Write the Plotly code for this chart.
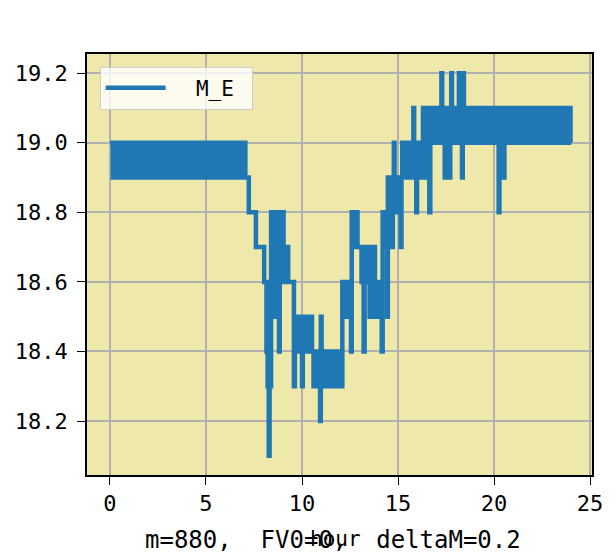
import plotly.graph_objects as go

# ---- data (hour, M_E), as change points ----
night_hour = [0.0, 0.15, 0.3, 0.45, 0.6, 0.75, 0.9, 1.05, 1.2, 1.35, 1.5, 1.65,
              1.8, 1.95, 2.1, 2.25, 2.4, 2.55, 2.7, 2.85, 3.0, 3.15, 3.3, 3.45,
              3.6, 3.75, 3.9, 4.05, 4.2, 4.35, 4.5, 4.65, 4.8, 4.95, 5.1, 5.25,
              5.4, 5.55, 5.7, 5.85, 6.0, 6.15, 6.3, 6.45, 6.6, 6.75, 6.9, 7.05]
night_me = [19.0, 18.9, 19.0, 18.9, 19.0, 18.9, 19.0, 18.9, 19.0, 18.9, 19.0, 18.9,
            19.0, 18.9, 19.0, 18.9, 19.0, 18.9, 19.0, 18.9, 19.0, 18.9, 19.0, 18.9,
            19.0, 18.9, 19.0, 18.9, 19.0, 18.9, 19.0, 18.9, 19.0, 18.9, 19.0, 18.9,
            19.0, 18.9, 19.0, 18.9, 19.0, 18.9, 19.0, 18.9, 19.0, 18.9, 19.0, 18.9]

drop_hour = [7.23, 7.60, 8.03, 8.15, 8.21, 8.27, 8.31, 8.35, 8.39, 8.43,
             8.47, 8.51, 8.55, 8.59, 8.63, 8.67, 8.71, 8.75, 8.80, 8.84,
             8.88, 8.92, 8.96, 9.00, 9.04, 9.10, 9.16, 9.22, 9.28, 9.58,
             9.63, 9.70, 9.76, 9.82, 9.88, 9.94, 10.00, 10.04, 10.10, 10.16,
             10.22, 10.30, 10.34, 10.48, 10.52]
drop_me = [18.8, 18.7, 18.6, 18.4, 18.3, 18.1, 18.6, 18.3, 18.8, 18.5,
           18.7, 18.8, 18.6, 18.5, 18.7, 18.8, 18.6, 18.5, 18.4, 18.7,
           18.8, 18.6, 18.7, 18.8, 18.6, 18.7, 18.6, 18.7, 18.6, 18.3,
           18.5, 18.4, 18.5, 18.4, 18.5, 18.4, 18.3, 18.5, 18.4, 18.5,
           18.4, 18.5, 18.4, 18.5, 18.4]

low_hour = [10.60, 10.72, 10.84, 10.94, 10.98, 11.02, 11.14, 11.26, 11.38,
            11.50, 11.62, 11.74, 11.86, 11.92]
low_me = [18.3, 18.4, 18.3, 18.2, 18.5, 18.3, 18.4, 18.3, 18.4,
          18.3, 18.4, 18.3, 18.4, 18.3]

rise_hour = [12.10, 12.20, 12.30, 12.40, 12.50, 12.55, 12.59, 12.69, 12.79, 12.89,
             13.10, 13.16, 13.21, 13.26, 13.34, 13.42, 13.52, 13.58, 13.66, 13.74,
             13.80, 13.90, 14.00, 14.10, 14.15, 14.20, 14.30, 14.38, 14.44, 14.47,
             14.52, 14.60, 14.68, 14.73, 14.78, 14.82, 14.92, 15.02, 15.14, 15.18]
rise_me = [18.6, 18.5, 18.6, 18.5, 18.6, 18.4, 18.8, 18.7, 18.8, 18.7,
           18.6, 18.7, 18.4, 18.7, 18.6, 18.7, 18.5, 18.6, 18.5, 18.7,
           18.5, 18.6, 18.5, 18.6, 18.4, 18.8, 18.7, 18.8, 18.5, 18.9,
           18.7, 18.8, 18.7, 18.9, 19.0, 18.8, 18.9, 18.8, 18.7, 18.9]

day_hour = [15.22, 15.34, 15.46, 15.58, 15.70, 15.80, 15.84, 15.95, 15.99, 16.08,
            16.20, 16.30, 16.34, 16.44, 16.56, 16.63, 16.68, 16.80, 16.92, 17.04,
            17.16, 17.26, 17.30, 17.43, 17.47, 17.59, 17.68, 17.72, 17.77, 17.81,
            17.93, 18.05, 18.17, 18.22, 18.28, 18.33, 18.37, 18.43, 18.52]
day_me = [19.0, 18.9, 19.0, 18.9, 19.0, 19.1, 18.9, 18.8, 19.0, 18.9,
          19.0, 19.1, 18.9, 19.1, 19.0, 18.8, 19.1, 19.0, 19.1, 19.0,
          19.1, 19.2, 19.0, 18.9, 19.1, 19.0, 18.9, 19.1, 19.2, 19.0,
          19.1, 19.0, 19.2, 19.1, 19.2, 18.9, 19.2, 19.1, 19.0]

late_hour = [18.64, 18.76, 18.88, 19.00, 19.12, 19.24, 19.36, 19.48, 19.60, 19.72,
             19.84, 19.96, 20.08, 20.20, 20.24, 20.28, 20.40, 20.50, 20.54, 20.66,
             20.78, 20.90, 21.02, 21.14, 21.26, 21.38, 21.50, 21.62, 21.74, 21.86,
             21.98, 22.10, 22.22, 22.34, 22.46, 22.58, 22.70, 22.82, 22.94, 23.06,
             23.18, 23.30, 23.42, 23.54, 23.66, 23.78, 23.90, 23.98]
late_me = [19.1, 19.0, 19.1, 19.0, 19.1, 19.0, 19.1, 19.0, 19.1, 19.0,
           19.1, 19.0, 19.1, 19.0, 18.8, 19.1, 19.0, 18.9, 19.1, 19.0,
           19.1, 19.0, 19.1, 19.0, 19.1, 19.0, 19.1, 19.0, 19.1, 19.0,
           19.1, 19.0, 19.1, 19.0, 19.1, 19.0, 19.1, 19.0, 19.1, 19.0,
           19.1, 19.0, 19.1, 19.0, 19.1, 19.0, 19.1, 19.0]

x_ticks = [0, 5, 10, 15, 20, 25]
y_ticks = [18.2, 18.4, 18.6, 18.8, 19.0, 19.2]
series_name = "M_E"
x_title = "hour"
caption = "m=880,\u00a0 FV0=0,\u00a0 deltaM=0.2"

hours = night_hour + drop_hour + low_hour + rise_hour + day_hour + late_hour
m_e = night_me + drop_me + low_me + rise_me + day_me + late_me

FONT = "DejaVu Sans Mono, Noto Sans Mono CJK SC, monospace"

fig = go.Figure()
fig.add_trace(go.Scatter(
    x=hours, y=m_e, mode="lines",
    name="\u00a0\u00a0" + series_name + "\u00a0",
    line_shape="hv",
    line=dict(color="#1f77b4", width=4.5),
))

axis_common = dict(
    showline=True, linecolor="black", linewidth=1.6, mirror=True,
    ticks="outside", ticklen=8, tickwidth=1.4, tickcolor="black",
    showgrid=True, gridcolor="#b0b0b0", gridwidth=1.6, zeroline=False,
    tickfont=dict(family=FONT, size=22, color="black"),
)

fig.update_layout(
    width=615, height=554,
    margin=dict(l=87, r=12, t=54, b=79),
    paper_bgcolor="white", plot_bgcolor="#eee8aa",
    font=dict(family=FONT, color="black"),
    xaxis=dict(range=[-1.195, 25.1], tickvals=x_ticks,
               ticktext=[str(v) for v in x_ticks], **axis_common),
    yaxis=dict(range=[18.045, 19.255], tickvals=y_ticks,
               ticktext=[f"{v:.1f}" for v in y_ticks],
               ticklabelstandoff=5, **axis_common),
    showlegend=True,
    legend=dict(x=0.025, y=0.97, xanchor="left", yanchor="top",
                bgcolor="rgba(255,255,255,0.8)", bordercolor="#cccccc",
                borderwidth=1, font=dict(family=FONT, size=21),
                itemwidth=60),
    annotations=[
        dict(text=x_title, xref="x domain", yref="paper", x=0.493, y=0,
             xanchor="center", yanchor="top", yshift=-50, showarrow=False,
             font=dict(family=FONT, size=21, color="black")),
        dict(text=caption, xref="x domain", yref="paper", x=0.487, y=0,
             xanchor="center", yanchor="top", yshift=-49, showarrow=False,
             font=dict(family=FONT, size=24, color="black")),
    ],
)

fig.write_html("out.html",
               config={"displayModeBar": False},
               post_script="document.body.style.margin='0';"
                           "document.body.style.overflow='hidden';")
